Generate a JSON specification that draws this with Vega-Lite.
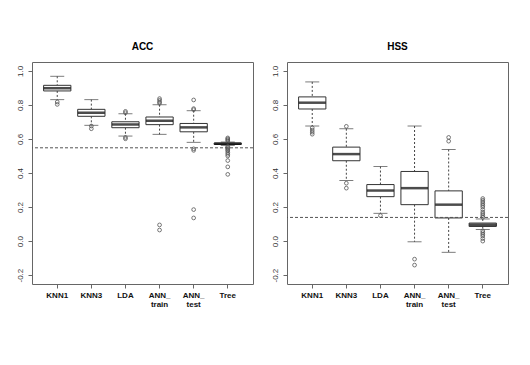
{
  "$schema": "https://vega.github.io/schema/vega-lite/v6.json",
  "background": "white",
  "padding": {"left": 3, "top": 41, "right": 5, "bottom": 5},
  "spacing": 4,
  "datasets": {
    "stats": [
      {"p": "ACC", "m": "KNN1", "lo": 0.831, "q1": 0.882, "med": 0.898, "q3": 0.915, "hi": 0.968},
      {"p": "ACC", "m": "KNN3", "lo": 0.680, "q1": 0.733, "med": 0.754, "q3": 0.774, "hi": 0.831},
      {"p": "ACC", "m": "LDA", "lo": 0.617, "q1": 0.666, "med": 0.685, "q3": 0.701, "hi": 0.748},
      {"p": "ACC", "m": "ANN_train", "lo": 0.627, "q1": 0.684, "med": 0.707, "q3": 0.729, "hi": 0.801},
      {"p": "ACC", "m": "ANN_test", "lo": 0.580, "q1": 0.642, "med": 0.668, "q3": 0.691, "hi": 0.766},
      {"p": "ACC", "m": "Tree", "lo": 0.562, "q1": 0.568, "med": 0.572, "q3": 0.576, "hi": 0.582},
      {"p": "HSS", "m": "KNN1", "lo": 0.676, "q1": 0.776, "med": 0.813, "q3": 0.847, "hi": 0.935},
      {"p": "HSS", "m": "KNN3", "lo": 0.356, "q1": 0.472, "med": 0.511, "q3": 0.552, "hi": 0.660},
      {"p": "HSS", "m": "LDA", "lo": 0.163, "q1": 0.261, "med": 0.297, "q3": 0.332, "hi": 0.438},
      {"p": "HSS", "m": "ANN_train", "lo": -0.004, "q1": 0.214, "med": 0.311, "q3": 0.409, "hi": 0.676},
      {"p": "HSS", "m": "ANN_test", "lo": -0.066, "q1": 0.136, "med": 0.214, "q3": 0.295, "hi": 0.538},
      {"p": "HSS", "m": "Tree", "lo": 0.068, "q1": 0.086, "med": 0.096, "q3": 0.106, "hi": 0.130}
    ],
    "out": [
      {"p": "ACC", "m": "KNN1", "v": 0.817}, {"p": "ACC", "m": "KNN1", "v": 0.803},
      {"p": "ACC", "m": "KNN3", "v": 0.676}, {"p": "ACC", "m": "KNN3", "v": 0.660},
      {"p": "ACC", "m": "LDA", "v": 0.762}, {"p": "ACC", "m": "LDA", "v": 0.754},
      {"p": "ACC", "m": "LDA", "v": 0.609}, {"p": "ACC", "m": "LDA", "v": 0.601},
      {"p": "ACC", "m": "ANN_train", "v": 0.837}, {"p": "ACC", "m": "ANN_train", "v": 0.827},
      {"p": "ACC", "m": "ANN_train", "v": 0.817}, {"p": "ACC", "m": "ANN_train", "v": 0.809},
      {"p": "ACC", "m": "ANN_train", "v": 0.095}, {"p": "ACC", "m": "ANN_train", "v": 0.065},
      {"p": "ACC", "m": "ANN_test", "v": 0.829}, {"p": "ACC", "m": "ANN_test", "v": 0.778},
      {"p": "ACC", "m": "ANN_test", "v": 0.772}, {"p": "ACC", "m": "ANN_test", "v": 0.542},
      {"p": "ACC", "m": "ANN_test", "v": 0.533}, {"p": "ACC", "m": "ANN_test", "v": 0.185},
      {"p": "ACC", "m": "ANN_test", "v": 0.136},
      {"p": "ACC", "m": "Tree", "v": 0.606}, {"p": "ACC", "m": "Tree", "v": 0.600},
      {"p": "ACC", "m": "Tree", "v": 0.594}, {"p": "ACC", "m": "Tree", "v": 0.588},
      {"p": "ACC", "m": "Tree", "v": 0.556}, {"p": "ACC", "m": "Tree", "v": 0.549},
      {"p": "ACC", "m": "Tree", "v": 0.543}, {"p": "ACC", "m": "Tree", "v": 0.536},
      {"p": "ACC", "m": "Tree", "v": 0.530}, {"p": "ACC", "m": "Tree", "v": 0.520},
      {"p": "ACC", "m": "Tree", "v": 0.510}, {"p": "ACC", "m": "Tree", "v": 0.500},
      {"p": "ACC", "m": "Tree", "v": 0.473}, {"p": "ACC", "m": "Tree", "v": 0.436},
      {"p": "ACC", "m": "Tree", "v": 0.392},
      {"p": "HSS", "m": "KNN1", "v": 0.665}, {"p": "HSS", "m": "KNN1", "v": 0.652},
      {"p": "HSS", "m": "KNN1", "v": 0.640}, {"p": "HSS", "m": "KNN1", "v": 0.628},
      {"p": "HSS", "m": "KNN3", "v": 0.674}, {"p": "HSS", "m": "KNN3", "v": 0.340},
      {"p": "HSS", "m": "KNN3", "v": 0.311},
      {"p": "HSS", "m": "LDA", "v": 0.150},
      {"p": "HSS", "m": "ANN_train", "v": -0.106}, {"p": "HSS", "m": "ANN_train", "v": -0.141},
      {"p": "HSS", "m": "ANN_test", "v": 0.609}, {"p": "HSS", "m": "ANN_test", "v": 0.587},
      {"p": "HSS", "m": "Tree", "v": 0.250}, {"p": "HSS", "m": "Tree", "v": 0.240},
      {"p": "HSS", "m": "Tree", "v": 0.230}, {"p": "HSS", "m": "Tree", "v": 0.220},
      {"p": "HSS", "m": "Tree", "v": 0.210}, {"p": "HSS", "m": "Tree", "v": 0.200},
      {"p": "HSS", "m": "Tree", "v": 0.185}, {"p": "HSS", "m": "Tree", "v": 0.170},
      {"p": "HSS", "m": "Tree", "v": 0.160}, {"p": "HSS", "m": "Tree", "v": 0.150},
      {"p": "HSS", "m": "Tree", "v": 0.140},
      {"p": "HSS", "m": "Tree", "v": 0.060}, {"p": "HSS", "m": "Tree", "v": 0.050},
      {"p": "HSS", "m": "Tree", "v": 0.040}, {"p": "HSS", "m": "Tree", "v": 0.030},
      {"p": "HSS", "m": "Tree", "v": 0.015}, {"p": "HSS", "m": "Tree", "v": 0.000}
    ],
    "ref": [
      {"p": "ACC", "y": 0.548},
      {"p": "HSS", "y": 0.139}
    ]
  },
  "hconcat": [
    {
      "title": "ACC",
      "width": 221,
      "height": 222,
      "layer": [
        {"data": {"name": "stats"}, "transform": [{"filter": "datum.p === 'ACC'"}],
         "mark": {"type": "rule", "strokeDash": [2, 2], "color": "#444", "strokeWidth": 1},
         "encoding": {
           "x": {"field": "m", "type": "nominal", "sort": ["KNN1", "KNN3", "LDA", "ANN_train", "ANN_test", "Tree"], "scale": {"paddingInner": 0, "paddingOuter": 0.24}, "axis": {"title": null, "labelAngle": 0, "labelFontWeight": "bold", "labelFontSize": 8, "labelColor": "#111", "domain": false, "tickSize": 4, "tickColor": "#666", "labelPadding": 3, "labelLineHeight": 9, "labelBaseline": "top", "labelExpr": "datum.value === 'ANN_train' ? ['ANN_', 'train'] : datum.value === 'ANN_test' ? ['ANN_', 'test'] : datum.value"}},
           "y": {"field": "hi", "type": "quantitative", "scale": {"domain": [-0.252, 1.052], "nice": false, "zero": false}, "axis": {"title": null, "values": [-0.2, 0, 0.2, 0.4, 0.6, 0.8, 1.0], "grid": false, "domain": false, "tickSize": 4, "tickColor": "#666", "labelAngle": -90, "labelAlign": "center", "labelBaseline": "bottom", "labelPadding": 4, "labelFontSize": 8, "labelColor": "#333", "labelOverlap": false, "labelBound": false, "labelExpr": "datum.value < 0 ? '-' + format(-datum.value, '.1f') : format(datum.value, '.1f')", "minExtent": 28, "maxExtent": 28}},
           "y2": {"field": "q3"}
         }},
        {"data": {"name": "stats"}, "transform": [{"filter": "datum.p === 'ACC'"}],
         "mark": {"type": "rule", "strokeDash": [2, 2], "color": "#444", "strokeWidth": 1},
         "encoding": {
           "x": {"field": "m", "type": "nominal", "sort": ["KNN1", "KNN3", "LDA", "ANN_train", "ANN_test", "Tree"]},
           "y": {"field": "q1", "type": "quantitative", "axis": {"title": null, "values": [-0.2, 0, 0.2, 0.4, 0.6, 0.8, 1.0], "grid": false, "domain": false, "tickSize": 4, "tickColor": "#666", "labelAngle": -90, "labelAlign": "center", "labelBaseline": "bottom", "labelPadding": 4, "labelFontSize": 8, "labelColor": "#333", "labelOverlap": false, "labelBound": false, "labelExpr": "datum.value < 0 ? '-' + format(-datum.value, '.1f') : format(datum.value, '.1f')", "minExtent": 28, "maxExtent": 28}},
           "y2": {"field": "lo"}
         }},
        {"data": {"name": "stats"}, "transform": [{"filter": "datum.p === 'ACC'"}],
         "mark": {"type": "tick", "size": 14, "thickness": 1, "color": "#444"},
         "encoding": {
           "x": {"field": "m", "type": "nominal", "sort": ["KNN1", "KNN3", "LDA", "ANN_train", "ANN_test", "Tree"]},
           "y": {"field": "hi", "type": "quantitative", "axis": {"title": null, "values": [-0.2, 0, 0.2, 0.4, 0.6, 0.8, 1.0], "grid": false, "domain": false, "tickSize": 4, "tickColor": "#666", "labelAngle": -90, "labelAlign": "center", "labelBaseline": "bottom", "labelPadding": 4, "labelFontSize": 8, "labelColor": "#333", "labelOverlap": false, "labelBound": false, "labelExpr": "datum.value < 0 ? '-' + format(-datum.value, '.1f') : format(datum.value, '.1f')", "minExtent": 28, "maxExtent": 28}}
         }},
        {"data": {"name": "stats"}, "transform": [{"filter": "datum.p === 'ACC'"}],
         "mark": {"type": "tick", "size": 14, "thickness": 1, "color": "#444"},
         "encoding": {
           "x": {"field": "m", "type": "nominal", "sort": ["KNN1", "KNN3", "LDA", "ANN_train", "ANN_test", "Tree"]},
           "y": {"field": "lo", "type": "quantitative", "axis": {"title": null, "values": [-0.2, 0, 0.2, 0.4, 0.6, 0.8, 1.0], "grid": false, "domain": false, "tickSize": 4, "tickColor": "#666", "labelAngle": -90, "labelAlign": "center", "labelBaseline": "bottom", "labelPadding": 4, "labelFontSize": 8, "labelColor": "#333", "labelOverlap": false, "labelBound": false, "labelExpr": "datum.value < 0 ? '-' + format(-datum.value, '.1f') : format(datum.value, '.1f')", "minExtent": 28, "maxExtent": 28}}
         }},
        {"data": {"name": "stats"}, "transform": [{"filter": "datum.p === 'ACC'"}],
         "mark": {"type": "bar", "width": {"band": 0.8}, "fill": "white", "stroke": "#333", "strokeWidth": 1},
         "encoding": {
           "x": {"field": "m", "type": "nominal", "sort": ["KNN1", "KNN3", "LDA", "ANN_train", "ANN_test", "Tree"]},
           "y": {"field": "q1", "type": "quantitative", "axis": {"title": null, "values": [-0.2, 0, 0.2, 0.4, 0.6, 0.8, 1.0], "grid": false, "domain": false, "tickSize": 4, "tickColor": "#666", "labelAngle": -90, "labelAlign": "center", "labelBaseline": "bottom", "labelPadding": 4, "labelFontSize": 8, "labelColor": "#333", "labelOverlap": false, "labelBound": false, "labelExpr": "datum.value < 0 ? '-' + format(-datum.value, '.1f') : format(datum.value, '.1f')", "minExtent": 28, "maxExtent": 28}},
           "y2": {"field": "q3"}
         }},
        {"data": {"name": "stats"}, "transform": [{"filter": "datum.p === 'ACC'"}],
         "mark": {"type": "tick", "size": 27, "thickness": 2.5, "color": "black"},
         "encoding": {
           "x": {"field": "m", "type": "nominal", "sort": ["KNN1", "KNN3", "LDA", "ANN_train", "ANN_test", "Tree"]},
           "y": {"field": "med", "type": "quantitative", "axis": {"title": null, "values": [-0.2, 0, 0.2, 0.4, 0.6, 0.8, 1.0], "grid": false, "domain": false, "tickSize": 4, "tickColor": "#666", "labelAngle": -90, "labelAlign": "center", "labelBaseline": "bottom", "labelPadding": 4, "labelFontSize": 8, "labelColor": "#333", "labelOverlap": false, "labelBound": false, "labelExpr": "datum.value < 0 ? '-' + format(-datum.value, '.1f') : format(datum.value, '.1f')", "minExtent": 28, "maxExtent": 28}}
         }},
        {"data": {"name": "out"}, "transform": [{"filter": "datum.p === 'ACC'"}],
         "mark": {"type": "point", "shape": "circle", "filled": false, "size": 14, "stroke": "#555", "strokeWidth": 0.8, "opacity": 1},
         "encoding": {
           "x": {"field": "m", "type": "nominal", "sort": ["KNN1", "KNN3", "LDA", "ANN_train", "ANN_test", "Tree"]},
           "y": {"field": "v", "type": "quantitative", "axis": {"title": null, "values": [-0.2, 0, 0.2, 0.4, 0.6, 0.8, 1.0], "grid": false, "domain": false, "tickSize": 4, "tickColor": "#666", "labelAngle": -90, "labelAlign": "center", "labelBaseline": "bottom", "labelPadding": 4, "labelFontSize": 8, "labelColor": "#333", "labelOverlap": false, "labelBound": false, "labelExpr": "datum.value < 0 ? '-' + format(-datum.value, '.1f') : format(datum.value, '.1f')", "minExtent": 28, "maxExtent": 28}}
         }},
        {"data": {"name": "ref"}, "transform": [{"filter": "datum.p === 'ACC'"}],
         "mark": {"type": "rule", "strokeDash": [3, 2], "color": "#555", "strokeWidth": 1},
         "encoding": {
           "y": {"field": "y", "type": "quantitative", "axis": {"title": null, "values": [-0.2, 0, 0.2, 0.4, 0.6, 0.8, 1.0], "grid": false, "domain": false, "tickSize": 4, "tickColor": "#666", "labelAngle": -90, "labelAlign": "center", "labelBaseline": "bottom", "labelPadding": 4, "labelFontSize": 8, "labelColor": "#333", "labelOverlap": false, "labelBound": false, "labelExpr": "datum.value < 0 ? '-' + format(-datum.value, '.1f') : format(datum.value, '.1f')", "minExtent": 28, "maxExtent": 28}}
         }}
      ]
    },
    {
      "title": "HSS",
      "width": 221,
      "height": 222,
      "layer": [
        {"data": {"name": "stats"}, "transform": [{"filter": "datum.p === 'HSS'"}],
         "mark": {"type": "rule", "strokeDash": [2, 2], "color": "#444", "strokeWidth": 1},
         "encoding": {
           "x": {"field": "m", "type": "nominal", "sort": ["KNN1", "KNN3", "LDA", "ANN_train", "ANN_test", "Tree"], "scale": {"paddingInner": 0, "paddingOuter": 0.24}, "axis": {"title": null, "labelAngle": 0, "labelFontWeight": "bold", "labelFontSize": 8, "labelColor": "#111", "domain": false, "tickSize": 4, "tickColor": "#666", "labelPadding": 3, "labelLineHeight": 9, "labelBaseline": "top", "labelExpr": "datum.value === 'ANN_train' ? ['ANN_', 'train'] : datum.value === 'ANN_test' ? ['ANN_', 'test'] : datum.value"}},
           "y": {"field": "hi", "type": "quantitative", "scale": {"domain": [-0.252, 1.052], "nice": false, "zero": false}, "axis": {"title": null, "values": [-0.2, 0, 0.2, 0.4, 0.6, 0.8, 1.0], "grid": false, "domain": false, "tickSize": 4, "tickColor": "#666", "labelAngle": -90, "labelAlign": "center", "labelBaseline": "bottom", "labelPadding": 4, "labelFontSize": 8, "labelColor": "#333", "labelOverlap": false, "labelBound": false, "labelExpr": "datum.value < 0 ? '-' + format(-datum.value, '.1f') : format(datum.value, '.1f')", "minExtent": 28, "maxExtent": 28}},
           "y2": {"field": "q3"}
         }},
        {"data": {"name": "stats"}, "transform": [{"filter": "datum.p === 'HSS'"}],
         "mark": {"type": "rule", "strokeDash": [2, 2], "color": "#444", "strokeWidth": 1},
         "encoding": {
           "x": {"field": "m", "type": "nominal", "sort": ["KNN1", "KNN3", "LDA", "ANN_train", "ANN_test", "Tree"]},
           "y": {"field": "q1", "type": "quantitative", "axis": {"title": null, "values": [-0.2, 0, 0.2, 0.4, 0.6, 0.8, 1.0], "grid": false, "domain": false, "tickSize": 4, "tickColor": "#666", "labelAngle": -90, "labelAlign": "center", "labelBaseline": "bottom", "labelPadding": 4, "labelFontSize": 8, "labelColor": "#333", "labelOverlap": false, "labelBound": false, "labelExpr": "datum.value < 0 ? '-' + format(-datum.value, '.1f') : format(datum.value, '.1f')", "minExtent": 28, "maxExtent": 28}},
           "y2": {"field": "lo"}
         }},
        {"data": {"name": "stats"}, "transform": [{"filter": "datum.p === 'HSS'"}],
         "mark": {"type": "tick", "size": 14, "thickness": 1, "color": "#444"},
         "encoding": {
           "x": {"field": "m", "type": "nominal", "sort": ["KNN1", "KNN3", "LDA", "ANN_train", "ANN_test", "Tree"]},
           "y": {"field": "hi", "type": "quantitative", "axis": {"title": null, "values": [-0.2, 0, 0.2, 0.4, 0.6, 0.8, 1.0], "grid": false, "domain": false, "tickSize": 4, "tickColor": "#666", "labelAngle": -90, "labelAlign": "center", "labelBaseline": "bottom", "labelPadding": 4, "labelFontSize": 8, "labelColor": "#333", "labelOverlap": false, "labelBound": false, "labelExpr": "datum.value < 0 ? '-' + format(-datum.value, '.1f') : format(datum.value, '.1f')", "minExtent": 28, "maxExtent": 28}}
         }},
        {"data": {"name": "stats"}, "transform": [{"filter": "datum.p === 'HSS'"}],
         "mark": {"type": "tick", "size": 14, "thickness": 1, "color": "#444"},
         "encoding": {
           "x": {"field": "m", "type": "nominal", "sort": ["KNN1", "KNN3", "LDA", "ANN_train", "ANN_test", "Tree"]},
           "y": {"field": "lo", "type": "quantitative", "axis": {"title": null, "values": [-0.2, 0, 0.2, 0.4, 0.6, 0.8, 1.0], "grid": false, "domain": false, "tickSize": 4, "tickColor": "#666", "labelAngle": -90, "labelAlign": "center", "labelBaseline": "bottom", "labelPadding": 4, "labelFontSize": 8, "labelColor": "#333", "labelOverlap": false, "labelBound": false, "labelExpr": "datum.value < 0 ? '-' + format(-datum.value, '.1f') : format(datum.value, '.1f')", "minExtent": 28, "maxExtent": 28}}
         }},
        {"data": {"name": "stats"}, "transform": [{"filter": "datum.p === 'HSS'"}],
         "mark": {"type": "bar", "width": {"band": 0.8}, "fill": "white", "stroke": "#333", "strokeWidth": 1},
         "encoding": {
           "x": {"field": "m", "type": "nominal", "sort": ["KNN1", "KNN3", "LDA", "ANN_train", "ANN_test", "Tree"]},
           "y": {"field": "q1", "type": "quantitative", "axis": {"title": null, "values": [-0.2, 0, 0.2, 0.4, 0.6, 0.8, 1.0], "grid": false, "domain": false, "tickSize": 4, "tickColor": "#666", "labelAngle": -90, "labelAlign": "center", "labelBaseline": "bottom", "labelPadding": 4, "labelFontSize": 8, "labelColor": "#333", "labelOverlap": false, "labelBound": false, "labelExpr": "datum.value < 0 ? '-' + format(-datum.value, '.1f') : format(datum.value, '.1f')", "minExtent": 28, "maxExtent": 28}},
           "y2": {"field": "q3"}
         }},
        {"data": {"name": "stats"}, "transform": [{"filter": "datum.p === 'HSS'"}],
         "mark": {"type": "tick", "size": 27, "thickness": 2.5, "color": "black"},
         "encoding": {
           "x": {"field": "m", "type": "nominal", "sort": ["KNN1", "KNN3", "LDA", "ANN_train", "ANN_test", "Tree"]},
           "y": {"field": "med", "type": "quantitative", "axis": {"title": null, "values": [-0.2, 0, 0.2, 0.4, 0.6, 0.8, 1.0], "grid": false, "domain": false, "tickSize": 4, "tickColor": "#666", "labelAngle": -90, "labelAlign": "center", "labelBaseline": "bottom", "labelPadding": 4, "labelFontSize": 8, "labelColor": "#333", "labelOverlap": false, "labelBound": false, "labelExpr": "datum.value < 0 ? '-' + format(-datum.value, '.1f') : format(datum.value, '.1f')", "minExtent": 28, "maxExtent": 28}}
         }},
        {"data": {"name": "out"}, "transform": [{"filter": "datum.p === 'HSS'"}],
         "mark": {"type": "point", "shape": "circle", "filled": false, "size": 14, "stroke": "#555", "strokeWidth": 0.8, "opacity": 1},
         "encoding": {
           "x": {"field": "m", "type": "nominal", "sort": ["KNN1", "KNN3", "LDA", "ANN_train", "ANN_test", "Tree"]},
           "y": {"field": "v", "type": "quantitative", "axis": {"title": null, "values": [-0.2, 0, 0.2, 0.4, 0.6, 0.8, 1.0], "grid": false, "domain": false, "tickSize": 4, "tickColor": "#666", "labelAngle": -90, "labelAlign": "center", "labelBaseline": "bottom", "labelPadding": 4, "labelFontSize": 8, "labelColor": "#333", "labelOverlap": false, "labelBound": false, "labelExpr": "datum.value < 0 ? '-' + format(-datum.value, '.1f') : format(datum.value, '.1f')", "minExtent": 28, "maxExtent": 28}}
         }},
        {"data": {"name": "ref"}, "transform": [{"filter": "datum.p === 'HSS'"}],
         "mark": {"type": "rule", "strokeDash": [3, 2], "color": "#555", "strokeWidth": 1},
         "encoding": {
           "y": {"field": "y", "type": "quantitative", "axis": {"title": null, "values": [-0.2, 0, 0.2, 0.4, 0.6, 0.8, 1.0], "grid": false, "domain": false, "tickSize": 4, "tickColor": "#666", "labelAngle": -90, "labelAlign": "center", "labelBaseline": "bottom", "labelPadding": 4, "labelFontSize": 8, "labelColor": "#333", "labelOverlap": false, "labelBound": false, "labelExpr": "datum.value < 0 ? '-' + format(-datum.value, '.1f') : format(datum.value, '.1f')", "minExtent": 28, "maxExtent": 28}}
         }}
      ]
    }
  ],
  "config": {
    "view": {"stroke": "#666", "strokeWidth": 1},
    "title": {"fontSize": 10, "fontWeight": "bold", "font": "Liberation Sans", "color": "black", "offset": 10, "anchor": "middle"},
    "axis": {"labelFont": "Liberation Sans"}
  }
}
